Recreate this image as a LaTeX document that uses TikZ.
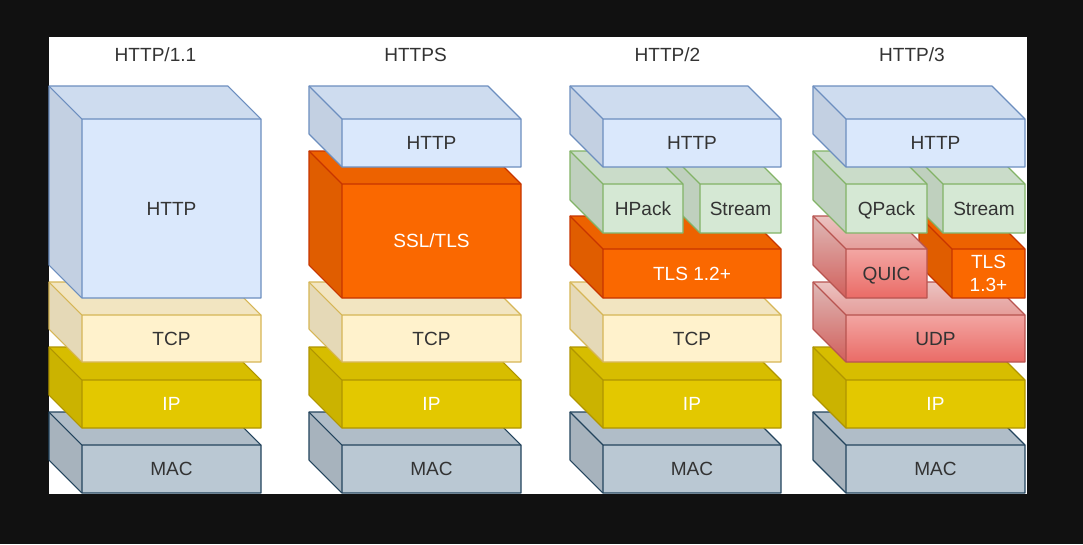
\documentclass[tikz,border=0pt]{standalone}
\usepackage{fontspec}
\setmainfont{Liberation Sans}
\definecolor{bgdark}{HTML}{111111}
\definecolor{txt}{HTML}{333333}
\definecolor{blueF}{HTML}{DAE8FC}\definecolor{blueS}{HTML}{6C8EBF}
\definecolor{creamF}{HTML}{FFF2CC}\definecolor{creamS}{HTML}{D6B656}
\definecolor{ipF}{HTML}{E3C800}\definecolor{ipS}{HTML}{B09500}
\definecolor{macF}{HTML}{BAC8D3}\definecolor{macS}{HTML}{23445D}
\definecolor{orangeF}{HTML}{FA6800}\definecolor{orangeS}{HTML}{C73500}
\definecolor{greenF}{HTML}{D5E8D4}\definecolor{greenS}{HTML}{82B366}
\definecolor{redF}{HTML}{F8CECC}\definecolor{redG}{HTML}{EA6B66}\definecolor{redS}{HTML}{B85450}
\tikzset{
  cf-blue/.style={fill=blueF}, ce-blue/.style={draw=blueS}, ct-blue/.style={text=txt},
  cf-cream/.style={fill=creamF}, ce-cream/.style={draw=creamS}, ct-cream/.style={text=txt},
  cf-ip/.style={fill=ipF}, ce-ip/.style={draw=ipS}, ct-ip/.style={text=white},
  cf-mac/.style={fill=macF}, ce-mac/.style={draw=macS}, ct-mac/.style={text=txt},
  cf-orange/.style={fill=orangeF}, ce-orange/.style={draw=orangeS}, ct-orange/.style={text=white},
  cf-green/.style={fill=greenF}, ce-green/.style={draw=greenS}, ct-green/.style={text=txt},
  cf-red/.style={top color=redF, bottom color=redG}, ce-red/.style={draw=redS}, ct-red/.style={text=txt},
  lbl/.style={font=\fontsize{14.3}{17}\selectfont, align=center, inner sep=0pt},
  oneline/.style={text height=10.3pt, text depth=0pt},
  twoline/.style={},
  ttl/.style={font=\fontsize{14.3}{16}\selectfont, text=txt, inner sep=0pt, text height=10.3pt, text depth=0pt},
  cubeline/.style={line width=0.8pt, line join=round}
}
% [#1 label style], #2 x0, #3 y0, #4 x1, #5 y1, #6 kind, #7 name, #8 label
\newcommand\cubebox[8][oneline]{%
  \path[cf-#6] (#2,#3) -- ({#4-33},#3) -- (#4,{#3+33}) -- (#4,#5) -- ({#2+33},#5) -- (#2,{#5-33}) -- cycle;
  \fill[black, fill opacity=0.05] (#2,#3) -- ({#4-33},#3) -- (#4,{#3+33}) -- ({#2+33},{#3+33}) -- cycle;
  \fill[black, fill opacity=0.1] (#2,#3) -- ({#2+33},{#3+33}) -- ({#2+33},#5) -- (#2,{#5-33}) -- cycle;
  \draw[cubeline, ce-#6] (#2,#3) -- ({#4-33},#3) -- (#4,{#3+33}) -- (#4,#5) -- ({#2+33},#5) -- (#2,{#5-33}) -- cycle;
  \draw[cubeline, ce-#6] (#2,#3) -- ({#2+33},{#3+33}) -- (#4,{#3+33}) ({#2+33},{#3+33}) -- ({#2+33},#5);
  \node[lbl, #1, ct-#6] (#7) at ({(#2+33+#4)/2},{(#3+33+#5)/2}) {#8};
}
\begin{document}
\begin{tikzpicture}[x=0.75pt,y=-0.75pt]
\fill[bgdark] (0,0) rectangle (1083,544);
\fill[white] (49,37) rectangle (1027,494);
% titles
\node[ttl] (t1) at (155.5,54.5) {HTTP/1.1};
\node[ttl] (t2) at (415.5,54.5) {HTTPS};
\node[ttl] (t3) at (667.5,54.5) {HTTP/2};
\node[ttl] (t4) at (912,54.5) {HTTP/3};
% stack 1
\cubebox{49}{412}{261}{493}{mac}{mac1}{MAC}
\cubebox{49}{347}{261}{428}{ip}{ip1}{IP}
\cubebox{49}{282}{261}{362}{cream}{tcp1}{TCP}
\cubebox{49}{86}{261}{298}{blue}{http1}{HTTP}
% stack 2
\cubebox{309}{412}{521}{493}{mac}{mac2}{MAC}
\cubebox{309}{347}{521}{428}{ip}{ip2}{IP}
\cubebox{309}{282}{521}{362}{cream}{tcp2}{TCP}
\cubebox{309}{151}{521}{298}{orange}{ssl2}{SSL/TLS}
\cubebox{309}{86}{521}{167}{blue}{http2}{HTTP}
% stack 3
\cubebox{570}{412}{781}{493}{mac}{mac3}{MAC}
\cubebox{570}{347}{781}{428}{ip}{ip3}{IP}
\cubebox{570}{282}{781}{362}{cream}{tcp3}{TCP}
\cubebox{570}{216}{781}{298}{orange}{tls3}{TLS 1.2+}
\cubebox{667}{151}{781}{233}{green}{stream3}{Stream}
\cubebox{570}{151}{683}{233}{green}{hpack3}{HPack}
\cubebox{570}{86}{781}{167}{blue}{http3}{HTTP}
% stack 4
\cubebox{813}{412}{1025}{493}{mac}{mac4}{MAC}
\cubebox{813}{347}{1025}{428}{ip}{ip4}{IP}
\cubebox{813}{282}{1025}{362}{red}{udp4}{UDP}
\cubebox[twoline]{919}{216}{1025}{298}{orange}{tls4}{TLS\\1.3+}
\cubebox{813}{216}{927}{298}{red}{quic4}{QUIC}
\cubebox{910}{151}{1025}{233}{green}{stream4}{Stream}
\cubebox{813}{151}{927}{233}{green}{qpack4}{QPack}
\cubebox{813}{86}{1025}{167}{blue}{http4}{HTTP}
\end{tikzpicture}
\end{document}
